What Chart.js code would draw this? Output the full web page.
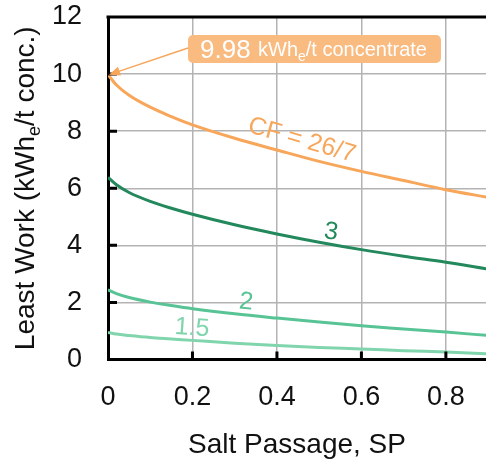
<!DOCTYPE html>
<html>
<head>
<meta charset="utf-8">
<script src="https://cdn.jsdelivr.net/npm/chart.js@4.4.1/dist/chart.umd.min.js"></script>
<style>
  html, body { margin: 0; padding: 0; background: #fff; }
</style>
</head>
<body>
<canvas id="workChart" width="486" height="463"></canvas>
<script>
// Salt passage (x) and least work for each concentration factor (kWh_e / t concentrate)
const saltPassage = [0, 0.02, 0.05, 0.1, 0.15, 0.2, 0.3, 0.4, 0.5, 0.6, 0.7, 0.8, 0.9];
const workCF26_7 = [9.98, 9.62, 9.26, 8.84, 8.51, 8.22, 7.75, 7.34, 6.94, 6.59, 6.27, 5.95, 5.68];
const workCF3    = [6.38, 6.12, 5.85, 5.54, 5.30, 5.09, 4.72, 4.40, 4.11, 3.85, 3.62, 3.41, 3.17];
const workCF2    = [2.44, 2.31, 2.17, 2.01, 1.89, 1.78, 1.60, 1.45, 1.31, 1.18, 1.07, 0.96, 0.84];
const workCF1_5  = [0.95, 0.89, 0.84, 0.77, 0.72, 0.67, 0.57, 0.49, 0.42, 0.37, 0.31, 0.26, 0.20];
const seriesNames = ['CF = 26/7', '3', '2', '1.5'];
const xTicks = [0, 0.2, 0.4, 0.6, 0.8];
const yTicks = [0, 2, 4, 6, 8, 10, 12];
const peakValue = 9.98;

const FONT = "'Liberation Sans', Arial, Helvetica, sans-serif";
const ORANGE = '#f7a65a';
const colors = [ORANGE, '#23895c', '#58c495', '#80d5ad'];

const toPoints = vals => vals.map((v, i) => ({ x: saltPassage[i], y: v }));

// Inner ticks, top border, axis titles, curve labels and the callout
Chart.register({
    id: 'leastWorkOverlay',
    afterDraw(chart) {
        const { ctx, chartArea: { top, bottom, left, right }, scales } = chart;
        const px = v => scales.x.getPixelForValue(v);
        const py = v => scales.y.getPixelForValue(v);

        ctx.save();
        // top border
        ctx.strokeStyle = '#000';
        ctx.lineWidth = 3;
        ctx.beginPath();
        ctx.moveTo(left - 1.5, top);
        ctx.lineTo(right, top);
        ctx.stroke();

        // inward tick marks
        ctx.beginPath();
        yTicks.slice(1, -1).forEach(t => {
            ctx.moveTo(left, py(t));
            ctx.lineTo(left + 9, py(t));
        });
        xTicks.slice(1).forEach(t => {
            ctx.moveTo(px(t), bottom);
            ctx.lineTo(px(t), bottom - 8);
        });
        ctx.stroke();

        // x title
        ctx.fillStyle = '#111';
        ctx.font = `28px ${FONT}`;
        ctx.textAlign = 'center';
        ctx.textBaseline = 'alphabetic';
        ctx.fillText('Salt Passage, SP', (left + right) / 2, 453);

        // y title with subscript
        ctx.save();
        ctx.translate(34, (top + bottom) / 2);
        ctx.rotate(-Math.PI / 2);
        ctx.textAlign = 'left';
        const big = `28px ${FONT}`, small = `18px ${FONT}`;
        const parts = [['Least Work (kWh', big, 0], ['e', small, 6], ['/t conc.)', big, 0]];
        let w = 0;
        parts.forEach(([t, f]) => { ctx.font = f; w += ctx.measureText(t).width; });
        let cx = -w / 2;
        parts.forEach(([t, f, dy]) => {
            ctx.font = f;
            ctx.fillText(t, cx, dy);
            cx += ctx.measureText(t).width;
        });
        ctx.restore();

        // curve labels
        const labelSpots = [[0.459, 7.68, 16], [0.528, 4.46, 8], [0.327, 2.01, 6], [0.199, 1.10, 4]];
        ctx.font = `25px ${FONT}`;
        ctx.textAlign = 'center';
        ctx.textBaseline = 'middle';
        labelSpots.forEach(([sx, sy, deg], i) => {
            ctx.save();
            ctx.translate(px(sx), py(sy));
            ctx.rotate(deg * Math.PI / 180);
            ctx.fillStyle = colors[i];
            ctx.fillText(seriesNames[i], 0, 0);
            ctx.restore();
        });

        // callout box + arrow to the CF = 26/7 start point
        const tipX = px(saltPassage[0]) + 1, tipY = py(workCF26_7[0]);
        const boxL = 188, boxT = 35, boxW = 253, boxH = 28;
        ctx.fillStyle = '#f9bb80';
        ctx.beginPath();
        ctx.roundRect(boxL, boxT, boxW, boxH, 5);
        ctx.fill();

        ctx.strokeStyle = ORANGE;
        ctx.fillStyle = ORANGE;
        ctx.lineWidth = 1.5;
        const sx0 = boxL, sy0 = boxT + 13;
        const ang = Math.atan2(tipY - sy0, tipX - sx0);
        ctx.beginPath();
        ctx.moveTo(sx0, sy0);
        ctx.lineTo(tipX - 8 * Math.cos(ang), tipY - 8 * Math.sin(ang));
        ctx.stroke();
        ctx.beginPath();
        ctx.moveTo(tipX, tipY);
        ctx.lineTo(tipX - 11 * Math.cos(ang) + 4.5 * Math.sin(ang), tipY - 11 * Math.sin(ang) - 4.5 * Math.cos(ang));
        ctx.lineTo(tipX - 11 * Math.cos(ang) - 4.5 * Math.sin(ang), tipY - 11 * Math.sin(ang) + 4.5 * Math.cos(ang));
        ctx.closePath();
        ctx.fill();

        ctx.fillStyle = '#fff';
        ctx.textAlign = 'left';
        ctx.textBaseline = 'alphabetic';
        ctx.font = `26px ${FONT}`;
        ctx.fillText(peakValue.toFixed(2), 200, 58);
        let tx = 258;
        [['kWh', `20px ${FONT}`, 0], ['e', `14px ${FONT}`, 5], ['/t concentrate', `20px ${FONT}`, 0]].forEach(([t, f, dy]) => {
            ctx.font = f;
            ctx.fillText(t, tx, 56 + dy);
            tx += ctx.measureText(t).width;
        });
        ctx.restore();
    }
});

const noPad = s => { s.paddingTop = 0; s.paddingBottom = 0; s.paddingLeft = 0; s.paddingRight = 0; };

const workChart = new Chart(document.getElementById('workChart'), {
    type: 'line',
    data: {
        datasets: [workCF26_7, workCF3, workCF2, workCF1_5].map((vals, i) => ({
            label: seriesNames[i],
            data: toPoints(vals),
            borderColor: colors[i],
            borderWidth: 3,
            pointRadius: 0,
            fill: false,
            cubicInterpolationMode: 'monotone'
        }))
    },
    options: {
        responsive: false,
        animation: false,
        layout: { padding: { top: 17, right: 0, left: 0, bottom: 0 } },
        scales: {
            x: {
                type: 'linear',
                min: 0,
                max: 0.895,
                afterBuildTicks: s => { s.ticks = xTicks.map(v => ({ value: v })); },
                afterFit: s => { s.height = 103.5; noPad(s); },
                border: { color: '#000', width: 3 },
                grid: { color: '#b3b3b3', lineWidth: 1.5, drawTicks: false },
                ticks: {
                    padding: 22,
                    color: '#111',
                    font: { family: FONT, size: 27 },
                    maxRotation: 0,
                    callback: v => String(v)
                }
            },
            y: {
                type: 'linear',
                min: 0,
                max: 12,
                afterBuildTicks: s => { s.ticks = yTicks.map(v => ({ value: v })); },
                afterFit: s => { s.width = 108; noPad(s); },
                border: { color: '#000', width: 3 },
                grid: { color: '#b3b3b3', lineWidth: 1.5, drawTicks: false },
                ticks: {
                    padding: 26,
                    color: '#111',
                    font: { family: FONT, size: 27 }
                }
            }
        },
        plugins: {
            legend: { display: false },
            tooltip: { enabled: false }
        }
    }
});
</script>
</body>
</html>
